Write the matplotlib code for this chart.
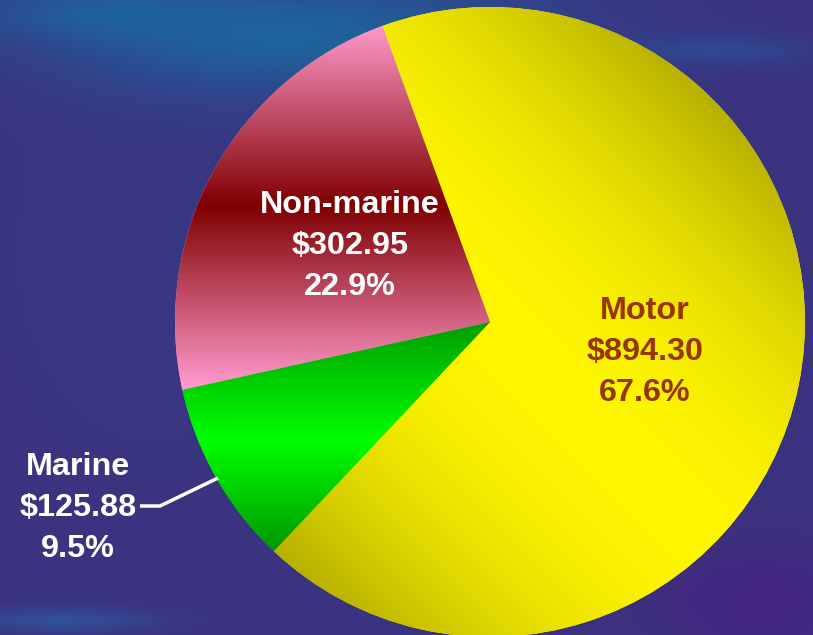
import numpy as np
import matplotlib
matplotlib.use("Agg")
import matplotlib.pyplot as plt

# ---- data ----
categories = ["Motor", "Marine", "Non-marine"]
values = [894.30, 125.88, 302.95]
percents = [67.6, 9.5, 22.9]

W, H = 813, 635
fig = plt.figure(figsize=(W / 100, H / 100), dpi=100)
ax = fig.add_axes([0, 0, 1, 1])

# ---- background (decorative texture) ----
Y, X = np.mgrid[0:H, 0:W].astype(float)
base = np.array([0.23, 0.20, 0.50])
bg = np.ones((H, W, 3)) * base
def blob(cx, cy, sx, sy, col, amp):
    g = amp * np.exp(-(((X - cx) / sx) ** 2 + ((Y - cy) / sy) ** 2))
    return g[..., None] * (np.array(col) - base)
bg += blob(300, 35, 240, 60, [0.10, 0.42, 0.63], 0.85)
bg += blob(80, 10, 120, 30, [0.10, 0.42, 0.63], 0.45)
bg += blob(720, 50, 90, 15, [0.10, 0.45, 0.70], 0.3)
bg += blob(60, 620, 90, 12, [0.15, 0.45, 0.70], 0.45)
bg += blob(760, 600, 110, 60, [0.30, 0.10, 0.50], 0.5)
bg += blob(150, 250, 140, 200, [0.21, 0.24, 0.54], 0.5)
bg = np.clip(bg, 0, 1)
ax.imshow(bg, extent=(0, W, 0, H), origin="upper", zorder=0)

# ---- pie ----
cx, cy_img, R = 490, 322, 315
cy = H - cy_img
wedges, _ = ax.pie(values, startangle=110, counterclock=False,
                   center=(cx, cy), radius=R, frame=True,
                   colors=["#ffff00", "#00ff00", "#ff99cc"],
                   wedgeprops=dict(linewidth=0, edgecolor="none"))

# gradients (styling)
u = (X - Y) - 168
f = np.clip(1 - 1.45e-6 * u ** 2, 0, 1)
yellow = np.dstack([f, f * 0.965, np.zeros_like(f)])

t = np.interp(Y, [322, 440, 560], [0.62, 1.0, 0.55])
green = np.dstack([np.zeros_like(t), t, np.zeros_like(t)])

s = np.clip(np.abs(Y - 205) / 180, 0, 1)
pink_c = np.array([1.0, 0.60, 0.80])
red_c = np.array([0.50, 0.0, 0.0])
pink = red_c + (pink_c - red_c) * s[..., None]

for w, img in zip(wedges, [yellow, green, pink]):
    im = ax.imshow(img, extent=(0, W, 0, H), origin="upper", zorder=2)
    im.set_clip_path(w)

# ---- labels ----
font = dict(family="Liberation Sans", weight="bold", size=23.3,
            ha="center", va="center", linespacing=1.47, zorder=5)
def lab(i):
    return f"{categories[i]}\n${values[i]:.2f}\n{percents[i]}%"
ax.text(645, H - 352, lab(0), color="#993300", **font)
ax.text(350, H - 246, lab(2), color="white", **font)
ax.text(78, H - 508, lab(1), color="white", **font)
ax.plot([140, 160, 218], [H - 506, H - 506, H - 478], color="white",
        lw=2.5, zorder=5, solid_capstyle="butt")

ax.set_xlim(0, W)
ax.set_ylim(0, H)
ax.set_aspect("auto")
ax.axis("off")
fig.savefig("out.png", dpi=100)
